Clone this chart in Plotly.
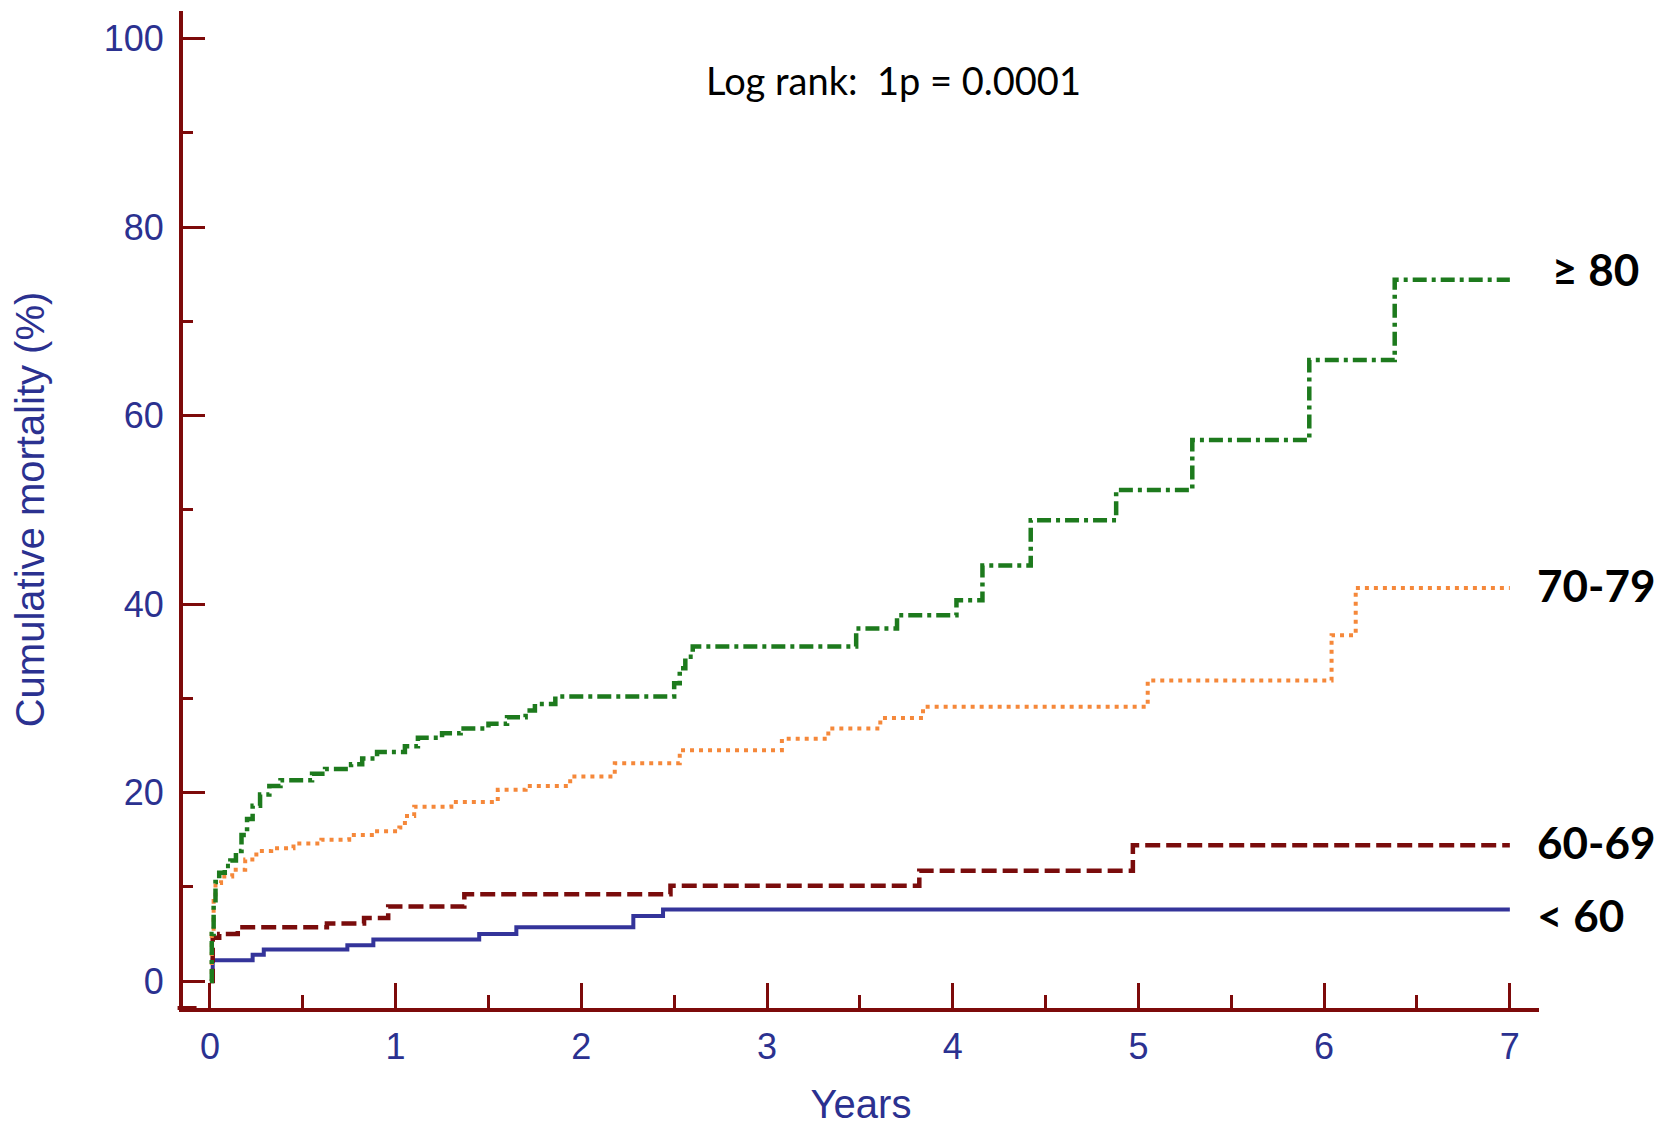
import plotly.graph_objects as go

# ---- data ----
t_lt60 = [0, 0.015, 0.23, 0.29, 0.74, 0.88, 1.45, 1.65, 2.28, 2.44, 7.0]
v_lt60 = [0, 2.2, 2.8, 3.35, 3.8, 4.4, 5.0, 5.7, 6.9, 7.6, 7.6]

t_6069 = [0, 0.015, 0.05, 0.15, 0.63, 0.83, 0.96, 1.37, 2.48, 3.82, 4.97, 7.0]
v_6069 = [0, 4.6, 5.0, 5.7, 6.1, 6.7, 7.9, 9.2, 10.1, 11.7, 14.4, 14.4]

t_7079 = [0, 0.01, 0.02, 0.03, 0.06, 0.12, 0.19, 0.25, 0.33, 0.45, 0.6, 0.75, 0.9,
          1.02, 1.05, 1.1, 1.3, 1.55, 1.7, 1.94, 2.18, 2.53, 3.08, 3.33, 3.61, 3.84,
          5.05, 6.04, 6.17, 7.0]
v_7079 = [0, 5.0, 8.5, 10.4, 11.1, 11.8, 12.9, 13.8, 14.1, 14.6, 15.0, 15.5, 15.9,
          16.3, 17.5, 18.5, 19.0, 20.3, 20.7, 21.7, 23.1, 24.5, 25.7, 26.8, 27.9, 29.1,
          31.9, 36.7, 41.7, 41.7]

t_ge80 = [0, 0.01, 0.02, 0.03, 0.05, 0.08, 0.11, 0.14, 0.17, 0.2, 0.23, 0.27, 0.32,
          0.38, 0.55, 0.62, 0.76, 0.82, 0.9, 1.05, 1.12, 1.25, 1.35, 1.5, 1.6, 1.7,
          1.75, 1.86, 2.5, 2.53, 2.56, 2.6, 3.48, 3.7, 4.02, 4.16, 4.42, 4.88, 5.29,
          5.92, 6.38, 7.0]
v_ge80 = [0, 5.0, 8.0, 10.5, 11.5, 12.2, 12.8, 13.8, 15.5, 17.2, 18.6, 19.8, 20.7,
          21.3, 22.0, 22.5, 23.0, 23.6, 24.3, 24.9, 25.8, 26.3, 26.8, 27.3, 28.0, 28.7,
          29.4, 30.2, 31.6, 33.2, 34.4, 35.5, 37.4, 38.8, 40.4, 44.1, 48.9, 52.1, 57.4,
          65.9, 74.4, 74.4]

group_labels = ["< 60", "60-69", "70-79", "\u2265 80"]
x_ticks = [0, 1, 2, 3, 4, 5, 6, 7]
y_ticks = [0, 20, 40, 60, 80, 100]
logrank_text = "Log rank:  1p = 0.0001"

# ---- styles ----
AXIS = "#7d0a0a"
NAVY = "#2b3190"
series = [
    (t_lt60, v_lt60, group_labels[0], "#34349a", "solid", 4),
    (t_6069, v_6069, group_labels[1], "#7a0c0c", "15px,6px", 4.5),
    (t_7079, v_7079, group_labels[2], "#f5883a", "4px,5px", 4),
    (t_ge80, v_ge80, group_labels[3], "#1d7a1d", "14px,5px,4px,5px", 4.5),
]

fig = go.Figure()
for t, v, name, col, dash, w in series:
    fig.add_trace(go.Scatter(x=t, y=v, mode="lines", name=name,
                             line=dict(color=col, dash=dash, width=w, shape="hv"),
                             showlegend=False))

# group labels at the right ends of the curves (x in paper units, y in data units)
label_x = [0.997, 0.997, 0.997, 1.008]
offsets = [-0.6, 0.4, 0.3, 1.1]
for (t, v, name, col, dash, w), lx, off in zip(series, label_x, offsets):
    fig.add_annotation(x=lx, y=v[-1] + off, xref="paper", yref="y", text=name,
                       showarrow=False, xanchor="left", yanchor="middle",
                       font=dict(family="Lato", size=44, color="black", weight="bold"))

fig.add_annotation(x=0.524, y=0.931, xref="paper", yref="paper", text=logrank_text,
                   showarrow=False, xanchor="center", yanchor="middle",
                   font=dict(family="Lato", size=38, color="black"))

# the page body has an 8px margin; the figure is sized so the plot lands where the reference has it
fig.update_layout(
    width=1660, height=1118,
    margin=dict(l=175, r=129, t=3, b=118, autoexpand=False),
    paper_bgcolor="white", plot_bgcolor="white",
    font=dict(family="Arial, Liberation Sans, sans-serif", color=NAVY),
)
fig.update_xaxes(
    range=[-0.145, 7.157], tickvals=x_ticks, ticktext=[str(x) for x in x_ticks],
    showgrid=False, zeroline=False, showline=True, linecolor=AXIS, linewidth=4,
    ticks="inside", ticklen=25, tickwidth=3, tickcolor=AXIS,
    minor=dict(dtick=0.5, tick0=0, ticks="inside", ticklen=13, tickwidth=3, tickcolor=AXIS),
    tickfont=dict(size=36, color=NAVY), ticklabelstandoff=4,
    title=dict(text="Years", font=dict(size=40, color=NAVY), standoff=26),
    automargin=False,
)
fig.update_yaxes(
    range=[-2.86, 102.92], tickvals=y_ticks, ticktext=[str(y) for y in y_ticks],
    showgrid=False, zeroline=False, showline=True, linecolor=AXIS, linewidth=4,
    ticks="inside", ticklen=22, tickwidth=3, tickcolor=AXIS,
    minor=dict(dtick=10, tick0=0, ticks="inside", ticklen=10, tickwidth=3, tickcolor=AXIS),
    tickfont=dict(size=36, color=NAVY), ticklabelstandoff=8,
    title=dict(text="Cumulative mortality (%)", font=dict(size=40, color=NAVY), standoff=50),
    automargin=False,
)
# small overhang of the x axis line left of the y axis
fig.add_shape(type="line", xref="paper", yref="paper", x0=-0.004, x1=0.01, y0=0, y1=0,
              line=dict(color=AXIS, width=4))

fig.write_html("out.html")
